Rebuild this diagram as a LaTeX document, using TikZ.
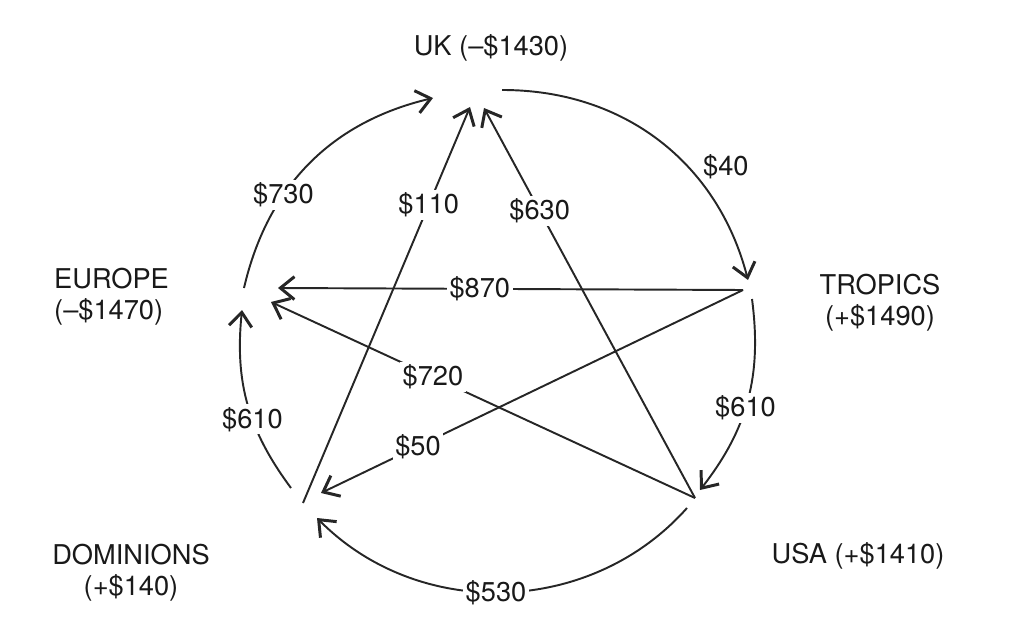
\documentclass[tikz,border=0pt]{standalone}
\usepackage{fontspec}
\setmainfont{TeX Gyre Heros}
\usetikzlibrary{arrows.meta}
\tikzset{
  flow/.style={line width=1.1pt, black!85, -{Straight Barb[length=8pt, width=13pt, line width=1.7pt]}},
  amt/.style={fill=white, inner sep=1.5pt, text=black!90, font=\fontsize{15.5}{17.5}\selectfont},
  hub/.style={align=center, text=black!90, font=\fontsize{15.5}{17.5}\selectfont},
}

\begin{document}
\begin{tikzpicture}[x=0.02cm, y=0.02cm]
  \useasboundingbox (0,0) rectangle (1014,640);

  % --- Regions ---
  \node[hub] (UK) at (491,592) {UK (\textendash\$1430)};
  \node[hub, align=left, anchor=west] (EU) at (48,343) {EUROPE\\(\textendash\$1470)};
  \node[hub] (TR) at (880,337) {TROPICS\\(+\$1490)};
  \node[hub] (DO) at (131,67) {DOMINIONS\\(+\$140)};
  \node[hub] (US) at (858,84) {USA (+\$1410)};

  % --- End points on the circle ---
  \coordinate (ukIn)  at (433,542);
  \coordinate (ukOut) at (502,550);
  \coordinate (uk110) at (470,533);
  \coordinate (uk630) at (484,532);
  \coordinate (trIn)  at (748,360);
  \coordinate (trOut) at (752,341);
  \coordinate (tr)    at (743,350);
  \coordinate (usIn)  at (700,150);
  \coordinate (usOut) at (687,132);
  \coordinate (us)    at (695,142);
  \coordinate (doIn)  at (317,122);
  \coordinate (doOut) at (291,152);
  \coordinate (do)    at (303,137);
  \coordinate (do50)  at (321,147);
  \coordinate (euIn)  at (242,330);
  \coordinate (euOut) at (244,352);
  \coordinate (eu870) at (278,352);
  \coordinate (eu720) at (271,338);

  % Flows round the circle
  \draw[flow] (ukOut) to[bend left=37.8] node[pos=0.68, above right, hub, inner sep=1pt] {\$40} (trIn);
  \draw[flow] (trOut) to[bend left=22.7] node[amt, pos=0.54] {\$610} (usIn);
  \draw[flow] (usOut) to[bend left=46.8] node[amt, pos=0.52] {\$530} (doIn);
  \draw[flow] (doOut) to[bend left=21.2] node[amt, pos=0.41] {\$610} (euIn);
  \draw[flow] (euOut) to[bend left=31.8] node[amt, pos=0.35] {\$730} (ukIn);

  % Flows across the circle
  \draw[flow] (do) -- node[amt, pos=0.753] {\$110} (uk110);
  \draw[flow] (us) -- node[amt, pos=0.736] {\$630} (uk630);
  \draw[flow] (tr) -- node[amt, pos=0.566] {\$870} (eu870);
  \draw[flow] (us) -- node[amt, pos=0.618] {\$720} (eu720);
  \draw[flow] (tr) -- node[amt, pos=0.770] {\$50} (do50);
\end{tikzpicture}
\end{document}
